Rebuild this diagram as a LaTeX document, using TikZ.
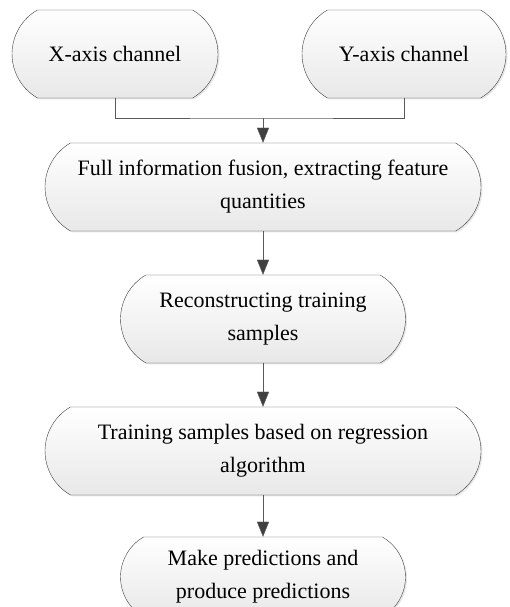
\documentclass[tikz,border=0pt]{standalone}
\usepackage{fontspec}
\setmainfont{Liberation Serif}
\usetikzlibrary{shapes.misc,arrows.meta,shadows}

\begin{document}
\begin{tikzpicture}[x=1pt,y=1pt,
    flowbox/.style={rounded rectangle, rounded rectangle arc length=120,
      draw=black!75, thin, top color=white, bottom color=black!9,
      drop shadow={shadow xshift=1.5pt,shadow yshift=-1.5pt,opacity=0.2},
      minimum height=88pt, inner sep=0pt, align=center,
      font=\fontsize{22}{33}\selectfont},
    flowarrow/.style={draw=black!65, -{Triangle[length=15pt,width=12pt,fill=black!75]}}]
  \useasboundingbox (0,0) rectangle (509,607);
  % channels
  \node[flowbox, minimum width=206pt] (xch) at (115,553) {X-axis channel};
  \node[flowbox, minimum width=204pt] (ych) at (404,553) {Y-axis channel};
  % processing steps
  \node[flowbox, minimum width=436pt] (fuse) at (263,420) {Full information fusion, extracting feature\\quantities};
  \node[flowbox, minimum width=285pt] (recon) at (263,288) {Reconstructing training\\samples};
  \node[flowbox, minimum width=436pt] (train) at (263,156) {Training samples based on regression\\algorithm};
  \node[flowbox, minimum width=285pt, minimum height=80pt] (pred) at (263,30) {Make predictions and\\produce predictions};
  % connectors
  \coordinate (join) at (263,489);
  \draw[black!65] (xch.south) |- (join) -| (ych.south);
  \draw[flowarrow] (join) -- (fuse.north);
  \draw[flowarrow] (fuse.south) -- (recon.north);
  \draw[flowarrow] (recon.south) -- (train.north);
  \draw[flowarrow] (train.south) -- (pred.north);
\end{tikzpicture}
\end{document}
